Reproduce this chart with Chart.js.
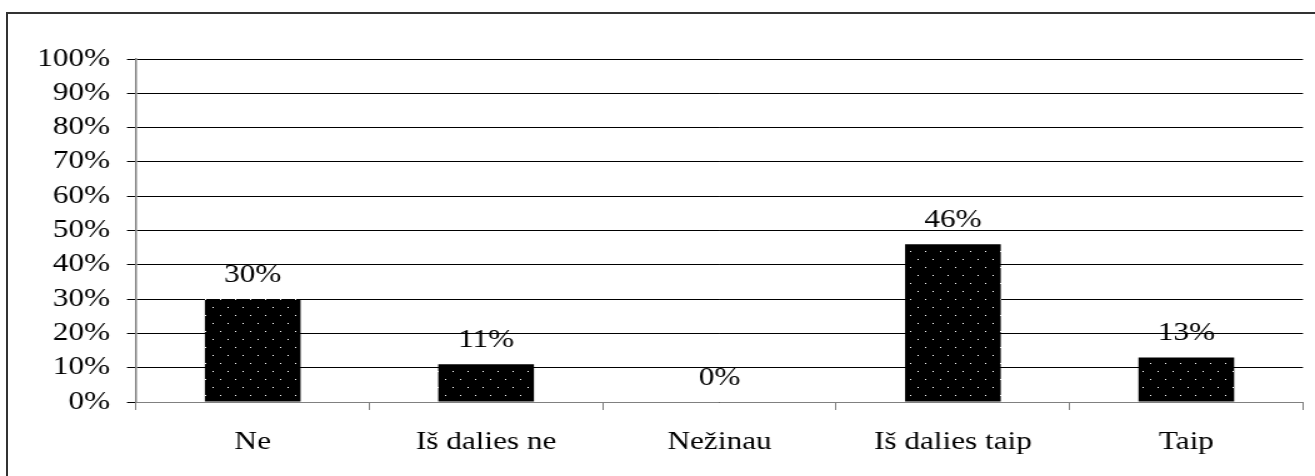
<!DOCTYPE html>
<html>
<head>
<meta charset="utf-8">
<script src="https://cdn.jsdelivr.net/npm/chart.js@4"></script>
<style>
	html, body {
		margin: 0;
		padding: 0;
		background: #fff;
		overflow: hidden;
		width: 1315px;
		height: 476px;
	}
	.frame {
		position: absolute;
		left: 6px;
		top: 12px;
		width: 2000px;
		height: 1000px;
		border-left: 2px solid #333;
		border-top: 2px solid #333;
	}
	/* the original picture is stretched sideways, so is ours */
	.wrap {
		position: absolute;
		left: 0;
		top: 0;
		width: 1052px;
		height: 476px;
		transform: scaleX(1.25);
		transform-origin: 0 0;
	}
</style>
</head>
<body>
<div class="frame"></div>
<div class="wrap"><canvas id="chart" width="1052" height="476"></canvas></div>
<script>
// Data
const categories = ["Ne", "Iš dalies ne", "Nežinau", "Iš dalies taip", "Taip"];
const shares = [30, 11, 0, 46, 13];
const yTicks = [0, 10, 20, 30, 40, 50, 60, 70, 80, 90, 100];

const fontFamily = "'Liberation Serif', 'Times New Roman', serif";

// Dotted fill like the original bars
function dotPattern() {
	const c = document.createElement("canvas");
	c.width = 12;
	c.height = 16;
	const g = c.getContext("2d");
	g.fillStyle = "#000";
	g.fillRect(0, 0, 12, 16);
	g.fillStyle = "#fff";
	g.fillRect(2, 3, 1, 1);
	g.fillRect(8, 11, 1, 1);
	return g.createPattern(c, "repeat");
}

// Value labels above the bars
const valueLabels = {
	id: "valueLabels",
	afterDatasetsDraw(chart) {
		const ctx = chart.ctx;
		const meta = chart.getDatasetMeta(0);
		ctx.save();
		ctx.font = "25px " + fontFamily;
		ctx.fillStyle = "#000";
		ctx.textAlign = "center";
		ctx.textBaseline = "alphabetic";
		meta.data.forEach((bar, i) => {
			ctx.fillText(shares[i] + "%", bar.x, bar.y - 17);
		});
		ctx.restore();
	},
};

const ctx = document.getElementById("chart").getContext("2d");
new Chart(ctx, {
	type: "bar",
	data: {
		labels: categories,
		datasets: [
			{
				data: shares,
				backgroundColor: dotPattern(),
				borderWidth: 0,
				categoryPercentage: 1,
				barPercentage: 0.41,
			},
		],
	},
	options: {
		responsive: false,
		animation: false,
		devicePixelRatio: 1,
		layout: {
			padding: { left: 0, top: 59, right: 9.6, bottom: 0 },
		},
		plugins: {
			legend: { display: false },
			tooltip: { enabled: false },
		},
		scales: {
			x: {
				offset: true,
				grid: {
					offset: true,
					drawOnChartArea: false,
					drawTicks: true,
					tickLength: 8,
					color: "#808080",
				},
				border: { color: "#808080", width: 1 },
				ticks: {
					color: "#000",
					font: { family: fontFamily, size: 25 },
					padding: 17,
					maxRotation: 0,
				},
				afterFit(scale) {
					scale.height = 74;
				},
			},
			y: {
				min: 0,
				max: 100,
				afterBuildTicks(scale) {
					scale.ticks = yTicks.map((v) => ({ value: v }));
				},
				grid: {
					color: "#000",
					lineWidth: 1,
					drawTicks: true,
					tickLength: 7.2,
				},
				border: { color: "#808080", width: 1.5 },
				ticks: {
					color: "#000",
					font: { family: fontFamily, size: 25 },
					padding: 13.6,
					callback: (v) => v + "%",
				},
				afterFit(scale) {
					scale.width = 108.8;
				},
			},
		},
	},
	plugins: [valueLabels],
});
</script>
</body>
</html>
